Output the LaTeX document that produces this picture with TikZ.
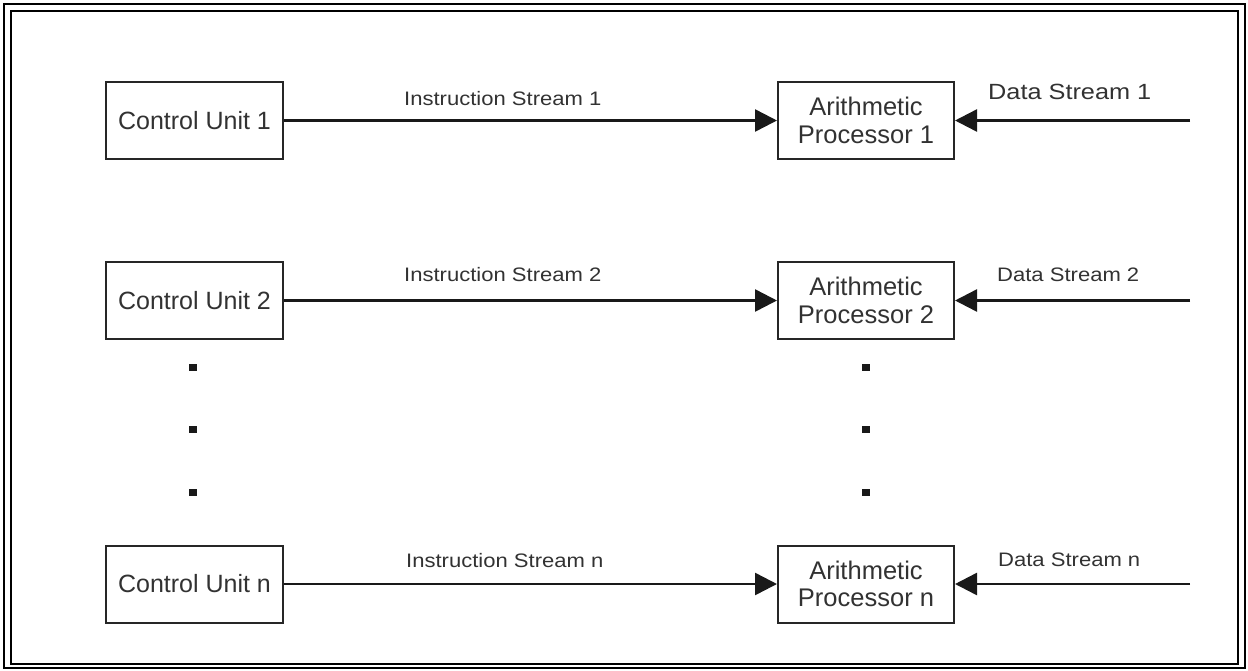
\documentclass[tikz,border=0pt]{standalone}
\usepackage{fontspec}
\setmainfont{Liberation Sans}
\usetikzlibrary{arrows.meta}
\definecolor{txt}{RGB}{50,50,50}
\begin{document}
\begin{tikzpicture}[x=1pt,y=-1pt,
  unitbox/.style={draw=black!85,line width=2pt,minimum width=177pt,minimum height=77pt,inner sep=0pt,text=txt,font=\fontsize{25}{30}\selectfont},
  procbox/.style={draw=black!85,line width=2pt,minimum width=176pt,minimum height=77pt,inner sep=0pt,text=txt,align=center,font=\fontsize{25.5}{27.5}\selectfont},
  lbl/.style={text=txt,inner sep=0pt,anchor=west,font=\fontsize{19.5}{22}\selectfont},
  conn/.style={line width=2.5pt,black!90,-{Triangle[length=22pt,width=22pt]}},
  dotmark/.style={fill=black!90,minimum width=8pt,minimum height=7pt,inner sep=0pt}]
\useasboundingbox (0,0) rectangle (1248,670);
\draw[line width=2.5pt] (4,4) rectangle (1245,668);
\draw[line width=2pt] (11,11) rectangle (1238,664);
% row 1
\node[unitbox] (cu1) at (194.5,120.5) {Control Unit 1};
\node[procbox] (ap1) at (866,120.5) {Arithmetic\\Processor 1};
\coordinate (d1) at (1190,120.5);
\draw[conn] (cu1.east) -- (ap1.west);
\draw[conn] (d1) -- (ap1.east);
\node[lbl] (is1) at (404,99) {\scalebox{1.13}[1]{Instruction Stream 1}};
\node[lbl,font=\fontsize{22}{24}\selectfont] (ds1) at (988,92) {\scalebox{1.15}[1]{Data Stream 1}};
% row 2
\node[unitbox] (cu2) at (194.5,300.5) {Control Unit 2};
\node[procbox] (ap2) at (866,300.5) {Arithmetic\\Processor 2};
\coordinate (d2) at (1190,300.5);
\draw[conn] (cu2.east) -- (ap2.west);
\draw[conn] (d2) -- (ap2.east);
\node[lbl] (is2) at (404,275) {\scalebox{1.13}[1]{Instruction Stream 2}};
\node[lbl] (ds2) at (997,275) {\scalebox{1.13}[1]{Data Stream 2}};
% row n
\node[unitbox] (cun) at (194.5,584) {Control Unit n};
\node[procbox] (apn) at (866,584) {Arithmetic\\Processor n};
\coordinate (dn) at (1190,584);
\draw[conn] (cun.east) -- (apn.west);
\draw[conn] (dn) -- (apn.east);
\node[lbl] (isn) at (406,561) {\scalebox{1.13}[1]{Instruction Stream n}};
\node[lbl] (dsn) at (998,560) {\scalebox{1.13}[1]{Data Stream n}};
% dots
\node[dotmark] (l1) at (193,367) {};
\node[dotmark] (l2) at (193,429) {};
\node[dotmark] (l3) at (193,492) {};
\node[dotmark] (r1) at (866,367) {};
\node[dotmark] (r2) at (866,429) {};
\node[dotmark] (r3) at (866,492) {};
\end{tikzpicture}
\end{document}
